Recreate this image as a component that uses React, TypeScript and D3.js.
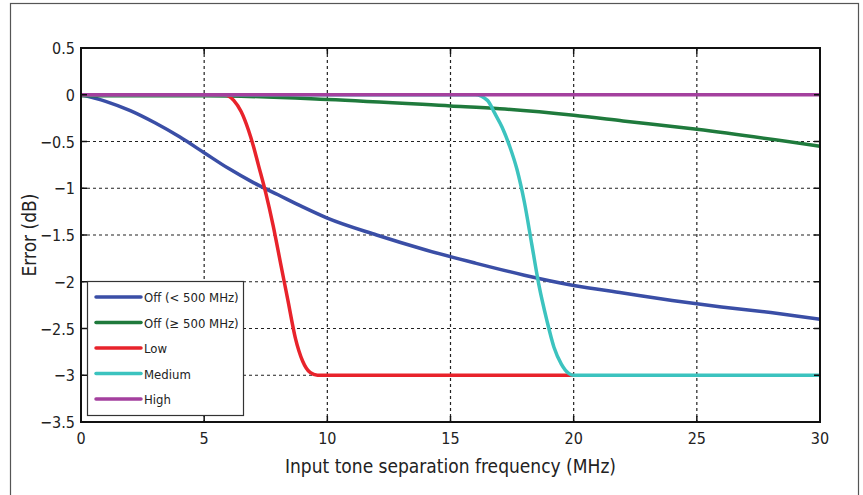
import React, { useEffect, useRef } from 'react';
import * as d3 from 'd3';

// x values in MHz, y values in dB
const offLowX = [0, 1, 2, 3, 4, 5, 6, 7, 8, 9, 10, 12, 14, 16, 18, 20, 22, 24, 26, 28, 30];
const offLowY = [0, -0.07, -0.17, -0.3, -0.45, -0.62, -0.79, -0.94, -1.07, -1.2, -1.32, -1.5, -1.66, -1.8, -1.93, -2.04, -2.12, -2.2, -2.27, -2.33, -2.4];

const offHighX = [0, 5, 10, 15, 17, 20, 22, 25, 30];
const offHighY = [-0.01, -0.01, -0.05, -0.12, -0.15, -0.22, -0.28, -0.37, -0.55];

const lowX = [0, 5.8, 6.2, 6.5, 6.8, 7.0, 7.2, 7.5, 7.8, 8.1, 8.4, 8.7, 9.0, 9.3, 9.6, 20];
const lowY = [0, 0, -0.06, -0.18, -0.38, -0.55, -0.75, -1.05, -1.4, -1.8, -2.2, -2.6, -2.85, -2.97, -3, -3];

const mediumX = [0, 16.0, 16.5, 16.8, 17.1, 17.4, 17.7, 18.0, 18.3, 18.6, 18.9, 19.2, 19.5, 19.8, 20, 30];
const mediumY = [0, 0, -0.06, -0.2, -0.35, -0.55, -0.8, -1.15, -1.6, -2.05, -2.4, -2.7, -2.88, -2.98, -3, -3];

const highX = [0, 30];
const highY = [0, 0];

const seriesNames = ['Off (< 500 MHz)', 'Off (\u2265 500 MHz)', 'Low', 'Medium', 'High'];
const seriesColors = ['#3a4ea6', '#1f7a3c', '#e8232b', '#3cc3bf', '#a4409e'];

const xTicks = [0, 5, 10, 15, 20, 25, 30];
const yTicks = [0.5, 0, -0.5, -1, -1.5, -2, -2.5, -3, -3.5];

const font = "'Liberation Sans Narrow', 'DejaVu Sans Condensed', 'Liberation Sans', sans-serif";

export default function App() {
    const ref = useRef<SVGSVGElement>(null);

    useEffect(() => {
        const svg = d3.select(ref.current);
        svg.selectAll('*').remove();

        const left = 81, right = 820, top = 48, bottom = 422;

        const x = d3.scaleLinear().domain([0, 30]).range([left, right]);
        const y = d3.scaleLinear().domain([-3.5, 0.5]).range([bottom, top]);

        // outer frame (bottom edge runs off the picture)
        svg.append('rect')
            .attr('x', 10.5).attr('y', 3.5)
            .attr('width', 848).attr('height', 500)
            .attr('fill', 'white')
            .attr('stroke', '#555')
            .attr('stroke-width', 1.2);

        // grid
        const grid = svg.append('g');
        xTicks.slice(1, -1).forEach(t => {
            grid.append('line')
                .attr('x1', x(t)).attr('x2', x(t))
                .attr('y1', top).attr('y2', bottom)
                .attr('stroke', '#222').attr('stroke-width', 1.2)
                .attr('stroke-dasharray', '3,3');
        });
        yTicks.slice(1, -1).forEach(t => {
            grid.append('line')
                .attr('x1', left).attr('x2', right)
                .attr('y1', y(t)).attr('y2', y(t))
                .attr('stroke', '#222').attr('stroke-width', 1.2)
                .attr('stroke-dasharray', '3,3');
        });

        // series
        const xs = [offLowX, offHighX, lowX, mediumX, highX];
        const ys = [offLowY, offHighY, lowY, mediumY, highY];
        const line = d3.line<[number, number]>()
            .x(d => x(d[0]))
            .y(d => y(d[1]))
            .curve(d3.curveMonotoneX);

        xs.forEach((xv, i) => {
            const pts: [number, number][] = xv.map((v, j) => [v, ys[i][j]]);
            svg.append('path')
                .datum(pts)
                .attr('fill', 'none')
                .attr('stroke', seriesColors[i])
                .attr('stroke-width', 3.5)
                .attr('stroke-linejoin', 'round')
                .attr('d', line);
        });

        // axes box
        svg.append('rect')
            .attr('x', left).attr('y', top)
            .attr('width', right - left).attr('height', bottom - top)
            .attr('fill', 'none')
            .attr('stroke', '#111')
            .attr('stroke-width', 2);

        // inner ticks
        xTicks.forEach(t => {
            svg.append('line')
                .attr('x1', x(t)).attr('x2', x(t))
                .attr('y1', bottom).attr('y2', bottom - 6)
                .attr('stroke', '#111').attr('stroke-width', 1.5);
            svg.append('line')
                .attr('x1', x(t)).attr('x2', x(t))
                .attr('y1', top).attr('y2', top + 6)
                .attr('stroke', '#111').attr('stroke-width', 1.5);
        });
        yTicks.forEach(t => {
            svg.append('line')
                .attr('x1', left).attr('x2', left + 6)
                .attr('y1', y(t)).attr('y2', y(t))
                .attr('stroke', '#111').attr('stroke-width', 1.5);
            svg.append('line')
                .attr('x1', right).attr('x2', right - 6)
                .attr('y1', y(t)).attr('y2', y(t))
                .attr('stroke', '#111').attr('stroke-width', 1.5);
        });

        // tick labels
        xTicks.forEach(t => {
            svg.append('text')
                .attr('x', x(t)).attr('y', bottom + 22)
                .attr('text-anchor', 'middle')
                .attr('font-family', font)
                .attr('font-size', 16)
                .attr('fill', '#222')
                .text(t);
        });
        yTicks.forEach(t => {
            svg.append('text')
                .attr('x', left - 6).attr('y', y(t) + 6)
                .attr('text-anchor', 'end')
                .attr('font-family', font)
                .attr('font-size', 16)
                .attr('fill', '#222')
                .text(t === 0 ? '0' : String(t).replace('-', '\u2212'));
        });

        // axis titles
        svg.append('text')
            .attr('x', (left + right) / 2).attr('y', 473)
            .attr('text-anchor', 'middle')
            .attr('font-family', font)
            .attr('font-size', 19)
            .attr('fill', '#222')
            .text('Input tone separation frequency (MHz)');
        svg.append('text')
            .attr('transform', `translate(36,${(top + bottom) / 2}) rotate(-90)`)
            .attr('text-anchor', 'middle')
            .attr('font-family', font)
            .attr('font-size', 19)
            .attr('fill', '#222')
            .text('Error (dB)');

        // legend
        const lg = svg.append('g');
        lg.append('rect')
            .attr('x', 87.5).attr('y', 281.5)
            .attr('width', 156).attr('height', 134)
            .attr('fill', 'white')
            .attr('stroke', '#333')
            .attr('stroke-width', 1.2);
        seriesNames.forEach((name, i) => {
            const ly = 297 + i * 25.5;
            lg.append('line')
                .attr('x1', 96).attr('x2', 141)
                .attr('y1', ly).attr('y2', ly)
                .attr('stroke', seriesColors[i])
                .attr('stroke-width', 3.5)
                .attr('stroke-linecap', 'round');
            lg.append('text')
                .attr('x', 144).attr('y', ly + 5)
                .attr('font-family', font)
                .attr('font-size', 13)
                .attr('fill', '#222')
                .text(name);
        });
    }, []);

    return (
        <svg ref={ref} width={863} height={495}
            style={{ position: 'absolute', left: 0, top: 0, display: 'block' }} />
    );
}
